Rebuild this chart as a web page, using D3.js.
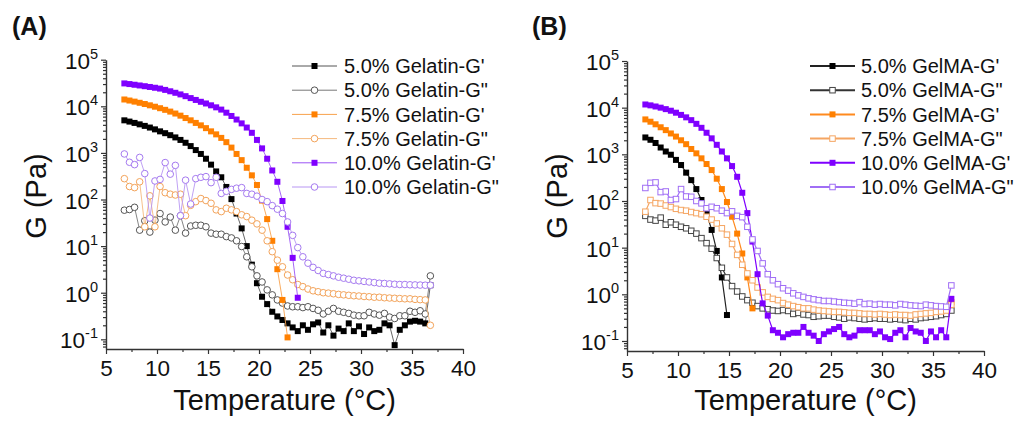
<!DOCTYPE html>
<html>
<head>
<meta charset="utf-8">
<script src="https://cdn.jsdelivr.net/npm/d3@7"></script>
<style>
  body { margin: 0; background: #fff; }
  text { font-family: "Liberation Sans", Arial, sans-serif; fill: #111; }
</style>
</head>
<body>
<svg id="chart"></svg>
<script>
// temperature sweep, one reading every 0.5 °C
const temps = [6.8, 7.3, 7.8, 8.3, 8.8, 9.3, 9.8, 10.3, 10.8, 11.3,
  11.8, 12.3, 12.8, 13.3, 13.8, 14.3, 14.8, 15.3, 15.8, 16.3,
  16.8, 17.3, 17.8, 18.3, 18.8, 19.3, 19.8, 20.3, 20.8, 21.3,
  21.8, 22.3, 22.8, 23.3, 23.8, 24.3, 24.8, 25.3, 25.8, 26.3,
  26.8, 27.3, 27.8, 28.3, 28.8, 29.3, 29.8, 30.3, 30.8, 31.3,
  31.8, 32.3, 32.8, 33.3, 33.8, 34.3, 34.8, 35.3, 35.8, 36.3, 36.8];

// (A) gelatin, G in Pa (null = below the axis / not shown)
const gelatin5G1 = [5000, 4700, 4400, 4100, 3800, 3500, 3200, 2900, 2650, 2400,
  2150, 1900, 1650, 1400, 1150, 950, 750, 560, 400, 300,
  186, 102, 50, 24, 10, 4, 1.6, 0.82, 0.57, 0.39,
  0.31, 0.26, 0.22, 0.18, 0.15, 0.2, 0.16, 0.21, 0.23, 0.14,
  0.2, 0.12, 0.17, 0.15, 0.22, 0.15, 0.19, 0.13, 0.18, 0.15,
  0.16, 0.22, 0.2, 0.075, 0.16, 0.2, 0.24, 0.25, 0.24, 0.22, 1.45];
const gelatin5G2 = [59, 61, 68, 22, 35, 20, 36, 50, 33, 42,
  22, 45, 19, 27, 28, 28, 26, 19, 18, 18,
  16, 15, 13, 9.8, 5.9, 3.6, 2.3, 1.7, 1.15, 0.9,
  0.7, 0.6, 0.52, 0.5, 0.5, 0.48, 0.5, 0.46, 0.42, 0.35,
  0.4, 0.46, 0.4, 0.38, 0.36, 0.33, 0.32, 0.32, 0.38, 0.35,
  0.33, 0.36, 0.3, 0.28, 0.32, 0.32, 0.4, 0.38, 0.41, 0.35, 2.3];
const gelatin75G1 = [14000, 13300, 12600, 11900, 11200, 10500, 9800, 9100, 8400, 7700,
  7000, 6300, 5600, 5000, 4400, 3900, 3400, 2900, 2500, 2100,
  1700, 1300, 950, 700, 480, 330, 205, 95, 38, 13,
  3.2, 0.7, 0.11, null, null, null, null, null, null, null,
  null, null, null, null, null, null, null, null, null, null,
  null, null, null, null, null, null, null, null, null, null, null];
const gelatin75G2 = [280, 190, 180, 240, 26, 120, 26, 190, 140, 130,
  125, 130, 45, 75, 90, 105, 95, 83, 60, 55,
  65, 60, 55, 47, 43, 36, 30, 22, 13, 7.6,
  5, 3.6, 2.4, 1.9, 1.5, 1.35, 1.2, 1.1, 1.05, 1.0,
  0.98, 0.95, 0.92, 0.9, 0.88, 0.86, 0.85, 0.83, 0.82, 0.8,
  0.8, 0.78, 0.77, 0.76, 0.75, 0.74, 0.74, 0.72, 0.71, 0.7, 0.2];
const gelatin10G1 = [31000, 30000, 29000, 28000, 27000, 26000, 25000, 24000, 22500, 21000,
  19500, 18000, 16500, 15000, 13700, 12500, 11500, 10500, 9500, 8500,
  7300, 6200, 5200, 4300, 3500, 2700, 1900, 1250, 750, 420,
  240, 93, 26, 5.6, 0.78, null, null, null, null, null,
  null, null, null, null, null, null, null, null, null, null,
  null, null, null, null, null, null, null, null, null, null, null];
const gelatin10G2 = [950, 630, 560, 800, 360, 40, 250, 270, 620, 350,
  540, 45, 260, 80, 280, 300, 310, 230, 300, 135,
  150, 165, 175, 180, 135, 130, 118, 100, 90, 74,
  62, 50, 33, 17, 9.3, 5.9, 4.3, 3.5, 3.0, 2.6,
  2.45, 2.3, 2.15, 2.05, 1.95, 1.85, 1.8, 1.75, 1.7, 1.65,
  1.6, 1.58, 1.55, 1.52, 1.5, 1.5, 1.48, 1.47, 1.46, 1.45, 1.45];

// (B) GelMA, G in Pa
const gelma5G1 = [2300, 2050, 1750, 1400, 1150, 980, 760, 590, 405, 280,
  180, 105, 55, 24, 8.5, 2.3, 0.36, null, null, null,
  null, null, null, null, null, null, null, null, null, null,
  null, null, null, null, null, null, null, null, null, null,
  null, null, null, null, null, null, null, null, null, null,
  null, null, null, null, null, null, null, null, null, null, null];
const gelma5G2 = [48, 40, 38, 44, 31, 35, 31, 28, 26, 23,
  20, 16, 12.5, 9.5, 6, 3.7, 2.3, 1.5, 1.15, 0.9,
  0.75, 0.66, 0.56, 0.5, 0.48, 0.45, 0.44, 0.46, 0.44, 0.38,
  0.4, 0.37, 0.36, 0.33, 0.34, 0.35, 0.35, 0.33, 0.32, 0.3,
  0.32, 0.31, 0.3, 0.29, 0.3, 0.31, 0.3, 0.3, 0.29, 0.3,
  0.29, 0.28, 0.3, 0.29, 0.31, 0.32, 0.33, 0.34, 0.36, 0.38, 0.45];
const gelma75G1 = [5600, 5000, 4400, 3800, 3300, 2800, 2400, 2000, 1650, 1300,
  1050, 820, 620, 460, 300, 180, 95, 46, 20, 7.5,
  2.3, 0.5, null, null, null, null, null, null, null, null,
  null, null, null, null, null, null, null, null, null, null,
  null, null, null, null, null, null, null, null, null, null,
  null, null, null, null, null, null, null, null, null, null, 0.68];
const gelma75G2 = [59, 105, 90, 88, 80, 74, 68, 64, 62, 58,
  55, 52, 46, 40, 33, 26, 19, 12, 7, 4.3,
  2.8, 2.0, 1.4, 1.1, 0.88, 0.8, 0.75, 0.65, 0.6, 0.56,
  0.53, 0.5, 0.5, 0.47, 0.45, 0.44, 0.43, 0.42, 0.42, 0.41,
  0.4, 0.4, 0.39, 0.38, 0.38, 0.37, 0.38, 0.37, 0.36, 0.37,
  0.36, 0.36, 0.35, 0.37, 0.38, 0.39, 0.4, 0.42, 0.43, 0.45, 0.6];
const gelma10G1 = [11700, 11200, 10600, 10000, 9300, 8600, 7800, 7000, 6200, 5400,
  4500, 3700, 2900, 2200, 1600, 1150, 820, 560, 330, 150,
  55, 13.5, 2.7, 0.64, 0.35, 0.17, 0.15, 0.12, 0.14, 0.15,
  0.15, 0.2, 0.15, 0.13, 0.1, 0.14, 0.16, 0.18, 0.2, 0.14,
  0.12, 0.13, 0.17, 0.17, 0.17, 0.14, 0.16, 0.12, 0.11, 0.15,
  0.17, 0.12, 0.19, 0.16, 0.15, 0.1, 0.16, 0.12, 0.17, 0.12, 0.8];
const gelma10G2 = [190, 245, 250, 155, 160, 105, 110, 180, 125, 123,
  100, 89, 70, 75, 70, 62, 55, 60, 48, 45,
  28, 15, 8.5, 4.6, 2.7, 2.0, 1.65, 1.35, 1.2, 1.05,
  0.95, 0.88, 0.82, 0.78, 0.75, 0.72, 0.72, 0.7, 0.68, 0.66,
  0.65, 0.63, 0.68, 0.62, 0.63, 0.6, 0.62, 0.6, 0.6, 0.58,
  0.62, 0.6, 0.58, 0.57, 0.56, 0.6, 0.58, 0.56, 0.55, 0.54, 1.55];

const xTicks = [5, 10, 15, 20, 25, 30, 35, 40];
const yTicks = [1e-1, 1e0, 1e1, 1e2, 1e3, 1e4, 1e5];

const width = 1036, height = 421;

const svg = d3.select('#chart')
    .attr('width', width)
    .attr('height', height)
    .style('background', '#fff');

const panels = [
  {
    label: '(A)', labelX: 12, left: 106, right: 463, top: 59.7, bottom: 349, yMin: 0.062,
    legendX: 292, legendTextX: 344, legendLineW: 1, lineW: 0.9,
    series: [
      {name: "5.0% Gelatin-G'", values: gelatin5G1, color: '#000', line: '#555', filled: true, shape: 'square'},
      {name: '5.0% Gelatin-G"', values: gelatin5G2, color: '#555', line: '#777', filled: false, shape: 'circle'},
      {name: "7.5% Gelatin-G'", values: gelatin75G1, color: '#ff8000', line: '#f8a24c', filled: true, shape: 'square'},
      {name: '7.5% Gelatin-G"', values: gelatin75G2, color: '#f3a35a', line: '#f5b97e', filled: false, shape: 'circle'},
      {name: "10.0% Gelatin-G'", values: gelatin10G1, color: '#7f00ff', line: '#9c55f5', filled: true, shape: 'square'},
      {name: '10.0% Gelatin-G"', values: gelatin10G2, color: '#a57af0', line: '#b896f3', filled: false, shape: 'circle'}
    ]
  },
  {
    label: '(B)', labelX: 532, left: 627, right: 984, top: 61, bottom: 351, yMin: 0.061,
    legendX: 810, legendTextX: 861, legendLineW: 2, lineW: 1.2,
    series: [
      {name: "5.0% GelMA-G'", values: gelma5G1, color: '#000', line: '#222', filled: true, shape: 'square'},
      {name: '5.0% GelMA-G"', values: gelma5G2, color: '#444', line: '#333', filled: false, shape: 'square'},
      {name: "7.5% GelMA-G'", values: gelma75G1, color: '#ff8000', line: '#ff8a1e', filled: true, shape: 'square'},
      {name: '7.5% GelMA-G"', values: gelma75G2, color: '#f5a562', line: '#f5a562', filled: false, shape: 'square'},
      {name: "10.0% GelMA-G'", values: gelma10G1, color: '#7f00ff', line: '#7f00ff', filled: true, shape: 'square'},
      {name: '10.0% GelMA-G"', values: gelma10G2, color: '#a06ef5', line: '#a06ef5', filled: false, shape: 'square'}
    ]
  }
];

function drawMarker(g, s, cx, cy) {
  if (s.shape === 'square') {
    let size = s.filled ? 6 : 5.5;
    g.append('rect')
        .attr('x', cx - size / 2)
        .attr('y', cy - size / 2)
        .attr('width', size)
        .attr('height', size)
        .attr('fill', s.filled ? s.color : '#fff')
        .attr('stroke', s.color)
        .attr('stroke-width', s.filled ? 0 : 1);
  } else {
    g.append('circle')
        .attr('cx', cx)
        .attr('cy', cy)
        .attr('r', 3.3)
        .attr('fill', s.filled ? s.color : '#fff')
        .attr('stroke', s.color)
        .attr('stroke-width', 1);
  }
}

panels.forEach(function(p) {
  let xScale = d3.scaleLinear().domain([5, 40]).range([p.left, p.right]);
  let yScale = d3.scaleLog().domain([p.yMin, 1e5]).range([p.bottom, p.top]);

  // minor ticks
  let xMinor = xTicks.slice(0, -1).map(t => t + 2.5);
  let yMinor = [];
  for (let e = -2; e < 5; e++) {
    for (let k = 2; k < 10; k++) {
      let v = k * Math.pow(10, e);
      if (v >= p.yMin && v < 1e5) yMinor.push(v);
    }
  }

  svg.append('g')
      .attr('transform', `translate(0, ${p.bottom})`)
      .call(d3.axisBottom(xScale).tickValues(xMinor).tickSize(3).tickSizeOuter(0).tickFormat(''))
      .call(g => g.select('.domain').remove());
  svg.append('g')
      .attr('transform', `translate(${p.left}, 0)`)
      .call(d3.axisLeft(yScale).tickValues(yMinor).tickSize(3).tickSizeOuter(0).tickFormat(''))
      .call(g => g.select('.domain').remove());

  let xAxis = svg.append('g')
      .attr('transform', `translate(0, ${p.bottom})`)
      .call(d3.axisBottom(xScale).tickValues(xTicks).tickSize(5).tickPadding(6).tickSizeOuter(0).tickFormat(d3.format('d')));
  xAxis.selectAll('text').attr('font-size', 22.5).style('font-family', '"Liberation Sans", Arial, sans-serif');

  let yAxis = svg.append('g')
      .attr('transform', `translate(${p.left}, 0)`)
      .call(d3.axisLeft(yScale).tickValues(yTicks).tickSize(5).tickPadding(3).tickSizeOuter(0));
  yAxis.selectAll('.tick text').each(function(d) {
    let t = d3.select(this);
    let exp = Math.round(Math.log10(d));
    t.text(null)
        .attr('font-size', 22.5)
        .attr('dy', '0.38em')
        .style('font-family', '"Liberation Sans", Arial, sans-serif');
    t.append('tspan').text('10');
    t.append('tspan').attr('dy', -10).attr('font-size', 14.5).text(exp);
  });

  svg.selectAll('.domain').attr('stroke', '#333').attr('stroke-width', 1.4);
  svg.selectAll('.tick line').attr('stroke', '#333').attr('stroke-width', 1.2);

  // axis titles
  svg.append('text')
      .attr('x', (p.left + p.right) / 2)
      .attr('y', 410)
      .attr('text-anchor', 'middle')
      .style('font-size', '29px')
      .text('Temperature (°C)');
  svg.append('text')
      .attr('transform', `translate(${p.left - 60}, 196) rotate(-90)`)
      .attr('text-anchor', 'middle')
      .style('font-size', '29px')
      .text('G (Pa)');

  // panel letter
  svg.append('text')
      .attr('x', p.labelX)
      .attr('y', 35)
      .style('font-size', '25px')
      .style('font-weight', 'bold')
      .text(p.label);

  // data
  let line = d3.line()
      .defined(d => d.v != null)
      .x(d => xScale(d.t))
      .y(d => yScale(d.v));

  p.series.forEach(function(s) {
    let pts = temps.map((t, i) => ({t: t, v: s.values[i]}));
    let g = svg.append('g');
    g.append('path')
        .datum(pts)
        .attr('d', line)
        .attr('fill', 'none')
        .attr('stroke', s.line)
        .attr('stroke-width', p.lineW);
    pts.filter(d => d.v != null).forEach(function(d) {
      drawMarker(g, s, xScale(d.t), yScale(d.v));
    });
  });

  // legend
  p.series.forEach(function(s, i) {
    let ly = 66 + i * 24.2;
    let g = svg.append('g');
    g.append('line')
        .attr('x1', p.legendX)
        .attr('x2', p.legendX + 45)
        .attr('y1', ly)
        .attr('y2', ly)
        .attr('stroke', s.line)
        .attr('stroke-width', p.legendLineW);
    drawMarker(g, s, p.legendX + 22.5, ly);
    g.append('text')
        .attr('x', p.legendTextX)
        .attr('y', ly)
        .attr('dy', '0.36em')
        .style('font-size', '20px')
        .text(s.name);
  });
});
</script>
</body>
</html>
